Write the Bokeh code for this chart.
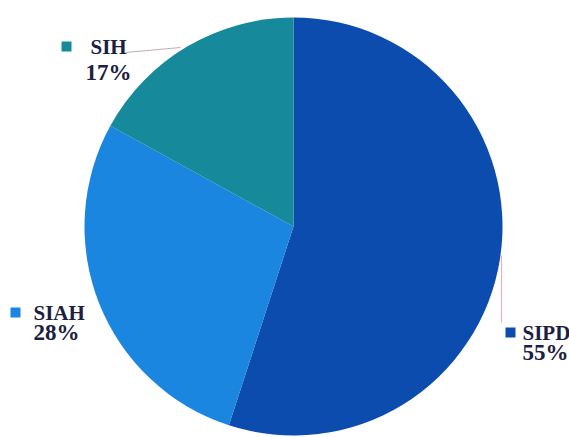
import math
from bokeh.plotting import figure
from bokeh.embed import file_html
from bokeh.resources import INLINE
from bokeh.core.properties import value

categories = ["SIPD", "SIAH", "SIH"]
values = [55, 28, 17]
pct_labels = ["55%", "28%", "17%"]
colors = ["#0b4cae", "#1a86e0", "#16899a"]

W, H = 569, 437
p = figure(width=W, height=H, x_range=(0, W), y_range=(0, H),
           output_backend="svg", toolbar_location=None, min_border=0)
p.axis.visible = False
p.grid.visible = False
p.outline_line_color = None
p.background_fill_color = "white"

cx, cy, r = 293, 211, 209
total = sum(values)
start = math.pi / 2
starts, ends = [], []
for v in values:
    a = 2 * math.pi * v / total
    starts.append(start - a)
    ends.append(start)
    start -= a
p.wedge(x=cx, y=cy, radius=r, start_angle=starts, end_angle=ends,
        fill_color=colors, line_color=None)

# leader lines
p.line(x=[125, 180], y=[385, 390], line_color="#c8a8b8", line_width=1)
p.line(x=[501, 501], y=[182, 115], line_color="#e8b0c0", line_width=1.2)

# label positions (marker x, marker y, text x, name y, pct y)
lab_pos = {
    "SIPD": (510, 105, 522, 105, 85),
    "SIAH": (15, 125, 33, 125, 105),
    "SIH": (66, 391, 90, 391, 365),
}
text_col = "#1c2040"
for cat, pct, col in zip(categories, pct_labels, colors):
    mx, my, tx, ny, py = lab_pos[cat]
    p.scatter(x=[mx], y=[my], marker="square", size=10, fill_color=col,
              line_color=None)
    p.text(x=[tx], y=[ny], text=[cat], text_font=value("Liberation Serif"),
           text_font_style="bold", text_font_size="21px", text_color=text_col,
           text_baseline="middle", text_align="left")
    p.text(x=[tx - (5 if cat == "SIH" else 0)], y=[py], text=[pct],
           text_font=value("Liberation Serif"), text_font_style="bold",
           text_font_size="23px", text_color=text_col,
           text_baseline="middle", text_align="left")

open("out.html", "w").write(file_html(p, INLINE))
